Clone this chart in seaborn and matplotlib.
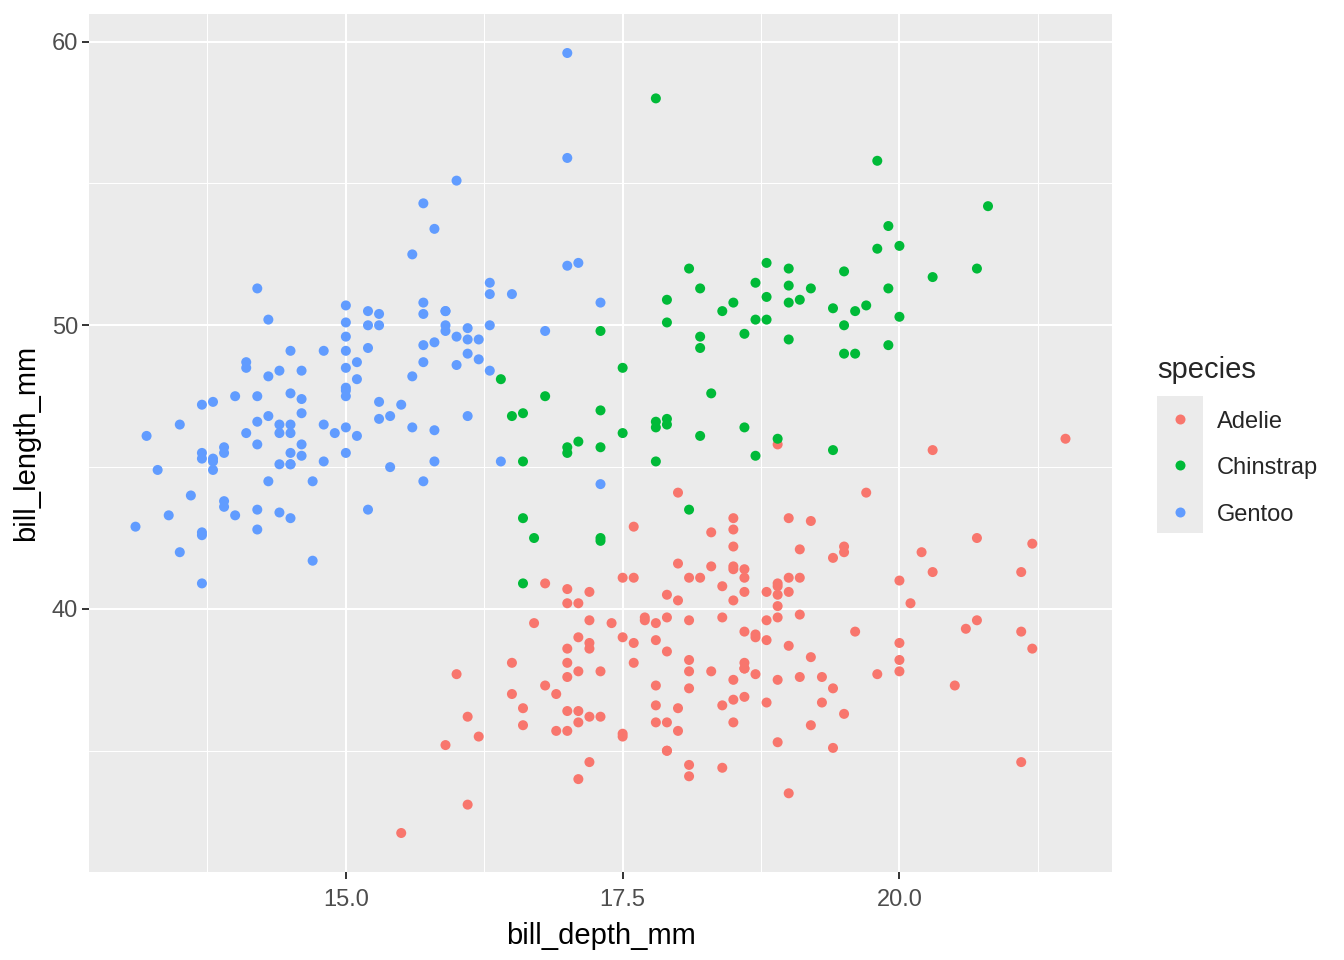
import matplotlib
matplotlib.use("Agg")
import matplotlib.pyplot as plt
from matplotlib.lines import Line2D
from matplotlib.patches import Rectangle
import pandas as pd
import seaborn as sns

# bill_depth_mm / bill_length_mm per species
adelie_depth = [
    18.7, 17.4, 18.0, 19.3, 20.6, 17.8, 19.6, 18.1, 20.2, 17.1, 17.3, 17.6, 21.2, 21.1, 17.8,
    19.0, 20.7, 18.4, 21.5, 18.3, 18.7, 19.2, 18.1, 17.2, 18.9, 18.6, 17.9, 18.6, 18.9, 16.7,
    18.1, 17.8, 18.9, 17.0, 21.1, 20.0, 18.5, 19.3, 19.1, 18.0, 18.4, 18.5, 19.7, 16.9, 18.8,
    19.0, 18.9, 17.9, 21.2, 17.7, 18.9, 17.9, 19.5, 18.1, 18.6, 17.5, 18.8, 16.6, 19.1, 16.9,
    21.1, 17.0, 18.2, 17.1, 18.0, 16.2, 19.1, 16.6, 19.4, 19.0, 18.4, 17.2, 18.9, 17.5, 18.5,
    16.8, 19.4, 16.1, 19.1, 17.2, 17.6, 18.8, 19.4, 17.8, 20.3, 19.5, 18.6, 19.2, 18.8, 18.0,
    18.1, 17.1, 18.1, 17.3, 18.9, 18.6, 18.5, 16.1, 18.5, 17.9, 20.0, 16.0, 20.0, 18.6, 18.9,
    17.2, 20.0, 17.0, 19.0, 16.5, 20.3, 17.7, 19.5, 20.7, 18.3, 17.0, 20.5, 17.0, 18.6, 17.2,
    19.8, 17.0, 18.5, 15.9, 19.0, 17.6, 18.3, 17.1, 18.0, 17.9, 19.2, 18.5, 18.5, 17.6, 17.5,
    17.5, 20.1, 16.5, 17.9, 17.1, 17.2, 15.5, 17.0, 16.8, 18.7, 18.6, 18.4, 17.8, 18.1, 17.1,
    18.5,
]
adelie_length = [
    39.1, 39.5, 40.3, 36.7, 39.3, 38.9, 39.2, 34.1, 42.0, 37.8, 37.8, 41.1, 38.6, 34.6, 36.6,
    38.7, 42.5, 34.4, 46.0, 37.8, 37.7, 35.9, 38.2, 38.8, 35.3, 40.6, 40.5, 37.9, 40.5, 39.5,
    37.2, 39.5, 40.9, 36.4, 39.2, 38.8, 42.2, 37.6, 39.8, 36.5, 40.8, 36.0, 44.1, 37.0, 39.6,
    41.1, 37.5, 36.0, 42.3, 39.6, 40.1, 35.0, 42.0, 34.5, 41.4, 39.0, 40.6, 36.5, 37.6, 35.7,
    41.3, 37.6, 41.1, 36.4, 41.6, 35.5, 41.1, 35.9, 41.8, 33.5, 39.7, 39.6, 45.8, 35.5, 42.8,
    40.9, 37.2, 36.2, 42.1, 34.6, 42.9, 36.7, 35.1, 37.3, 41.3, 36.3, 36.9, 38.3, 38.9, 35.7,
    41.1, 34.0, 39.6, 36.2, 40.8, 38.1, 40.3, 33.1, 43.2, 35.0, 41.0, 37.7, 37.8, 37.9, 39.7,
    38.6, 38.2, 38.1, 43.2, 38.1, 45.6, 39.7, 42.2, 39.6, 42.7, 38.6, 37.3, 35.7, 41.1, 36.2,
    37.7, 40.2, 41.4, 35.2, 40.6, 38.8, 41.5, 39.0, 44.1, 38.5, 43.1, 36.8, 37.5, 38.1, 41.1,
    35.6, 40.2, 37.0, 39.7, 40.2, 40.6, 32.1, 40.7, 37.3, 39.0, 39.2, 36.6, 36.0, 37.8, 36.0,
    41.5,
]
chinstrap_depth = [
    17.9, 19.5, 19.2, 18.7, 19.8, 17.8, 18.2, 18.2, 18.9, 19.9, 17.8, 20.3, 17.3, 18.1, 17.1,
    19.6, 20.0, 17.8, 18.6, 18.2, 17.3, 17.5, 16.6, 19.4, 17.9, 19.0, 18.4, 19.0, 17.8, 20.0,
    16.6, 20.8, 16.7, 18.8, 18.6, 16.8, 18.3, 20.7, 16.6, 19.9, 19.5, 17.5, 19.1, 17.0, 17.9,
    18.5, 17.9, 19.6, 18.7, 17.3, 16.4, 19.0, 17.3, 19.7, 17.3, 18.8, 16.6, 19.9, 18.8, 19.4,
    19.5, 16.5, 17.0, 19.8, 18.1, 18.2, 19.0, 18.7,
]
chinstrap_length = [
    46.5, 50.0, 51.3, 45.4, 52.7, 45.2, 46.1, 51.3, 46.0, 51.3, 46.6, 51.7, 47.0, 52.0, 45.9,
    50.5, 50.3, 58.0, 46.4, 49.2, 42.4, 48.5, 43.2, 50.6, 46.7, 52.0, 50.5, 49.5, 46.4, 52.8,
    40.9, 54.2, 42.5, 51.0, 49.7, 47.5, 47.6, 52.0, 46.9, 53.5, 49.0, 46.2, 50.9, 45.5, 50.9,
    50.8, 50.1, 49.0, 51.5, 49.8, 48.1, 51.4, 45.7, 50.7, 42.5, 52.2, 45.2, 49.3, 50.2, 45.6,
    51.9, 46.8, 45.7, 55.8, 43.5, 49.6, 50.8, 50.2,
]
gentoo_depth = [
    13.2, 16.3, 14.1, 15.2, 14.5, 13.5, 14.6, 15.3, 13.4, 15.4, 13.7, 16.1, 13.7, 14.6, 14.6,
    15.7, 13.5, 15.2, 14.5, 15.1, 14.3, 14.5, 14.5, 15.8, 13.1, 15.1, 14.3, 15.0, 14.3, 15.3,
    15.3, 14.2, 14.5, 17.0, 14.8, 16.3, 13.7, 17.3, 13.6, 15.7, 13.7, 16.0, 13.7, 15.0, 15.9,
    13.9, 13.9, 15.9, 13.3, 15.8, 14.2, 14.1, 14.4, 15.0, 14.4, 15.4, 13.9, 15.0, 14.5, 15.3,
    13.8, 14.9, 13.9, 15.7, 14.2, 16.8, 14.4, 16.2, 14.2, 15.0, 15.0, 15.6, 15.6, 14.8, 15.0,
    16.0, 14.2, 16.3, 13.8, 16.4, 14.5, 15.6, 14.6, 15.9, 13.8, 17.3, 14.4, 14.2, 14.0, 17.0,
    15.0, 17.1, 14.5, 16.1, 14.7, 15.7, 15.8, 14.6, 14.4, 16.5, 15.0, 17.0, 15.5, 15.0, 13.8,
    16.1, 14.7, 15.8, 14.0, 15.1, 15.2, 15.9, 15.2, 16.3, 14.1, 16.0, 15.7, 16.2, 13.7, 14.3,
    15.7, 14.8, 16.1,
]
gentoo_length = [
    46.1, 50.0, 48.7, 50.0, 47.6, 46.5, 45.4, 46.7, 43.3, 46.8, 40.9, 49.0, 45.5, 48.4, 45.8,
    49.3, 42.0, 49.2, 46.2, 48.7, 50.2, 45.1, 46.5, 46.3, 42.9, 46.1, 44.5, 47.8, 48.2, 50.0,
    47.3, 42.8, 45.1, 59.6, 49.1, 48.4, 42.6, 44.4, 44.0, 48.7, 42.7, 49.6, 45.3, 49.6, 50.5,
    43.6, 45.5, 50.5, 44.9, 45.2, 46.6, 48.5, 45.1, 50.1, 46.5, 45.0, 43.8, 45.5, 43.2, 50.4,
    45.3, 46.2, 45.7, 54.3, 45.8, 49.8, 46.2, 49.5, 43.5, 50.7, 47.7, 46.4, 48.2, 46.5, 46.4,
    48.6, 47.5, 51.1, 45.2, 45.2, 49.1, 52.5, 47.4, 50.0, 44.9, 50.8, 43.4, 51.3, 47.5, 52.1,
    47.5, 52.2, 45.5, 49.5, 44.5, 50.8, 49.4, 46.9, 48.4, 51.1, 48.5, 55.9, 47.2, 49.1, 47.3,
    46.8, 41.7, 53.4, 43.3, 48.1, 50.5, 49.8, 43.5, 51.5, 46.2, 55.1, 44.5, 48.8, 47.2, 46.8,
    50.4, 45.2, 49.9,
]

species_names = ["Adelie", "Chinstrap", "Gentoo"]
species_colors = ["#F8766D", "#00BA38", "#619CFF"]


def main():
    df = pd.concat([
        pd.DataFrame({"bill_depth_mm": d, "bill_length_mm": l, "species": s})
        for s, d, l in zip(species_names,
                           [adelie_depth, chinstrap_depth, gentoo_depth],
                           [adelie_length, chinstrap_length, gentoo_length])
    ], ignore_index=True)

    sns.set_theme(style="darkgrid")
    plt.rcParams["font.family"] = ["Liberation Sans", "DejaVu Sans"]

    fig = plt.figure(figsize=(13.44, 9.6), dpi=100)
    ax = fig.add_axes([89 / 1344, 88 / 960, 1023 / 1344, 858 / 960])
    ax.set_facecolor("#EBEBEB")

    sns.scatterplot(data=df, x="bill_depth_mm", y="bill_length_mm",
                    hue="species", hue_order=species_names,
                    palette=species_colors, s=52, linewidth=0,
                    legend=False, ax=ax, zorder=3)

    xmin, xmax = df["bill_depth_mm"].min(), df["bill_depth_mm"].max()
    ymin, ymax = df["bill_length_mm"].min(), df["bill_length_mm"].max()
    ax.set_xlim(xmin - 0.05 * (xmax - xmin), xmax + 0.05 * (xmax - xmin))
    ax.set_ylim(ymin - 0.05 * (ymax - ymin), ymax + 0.05 * (ymax - ymin))

    ax.set_xticks([15, 17.5, 20])
    ax.set_xticklabels(["15.0", "17.5", "20.0"])
    ax.set_xticks([13.75, 16.25, 18.75, 21.25], minor=True)
    ax.set_yticks([40, 50, 60])
    ax.set_yticks([35, 45, 55], minor=True)
    ax.grid(which="major", color="white", linewidth=1.5)
    ax.grid(which="minor", color="white", linewidth=0.75)
    for sp in ax.spines.values():
        sp.set_visible(False)
    ax.tick_params(which="major", length=5, width=1.4, color="#333333",
                   labelsize=17, labelcolor="#4D4D4D", pad=3)
    ax.tick_params(which="minor", length=0)
    ax.tick_params(axis="x", bottom=True, pad=7)
    ax.tick_params(axis="y", left=True)

    ax.set_xlabel("bill_depth_mm", fontsize=21, color="black", labelpad=8)
    ax.set_ylabel("bill_length_mm", fontsize=21, color="black", labelpad=8)

    # legend laid out like ggplot's
    W, H = 1344, 960
    fig.text(1157 / W, 1 - 370 / H, "species", fontsize=21, va="center", ha="left")
    fig.add_artist(Rectangle((1157 / W, 1 - 533 / H), 46 / W, 137 / H,
                             transform=fig.transFigure, facecolor="#EBEBEB",
                             edgecolor="none"))
    for i, (name, col) in enumerate(zip(species_names, species_colors)):
        yc = 1 - (419 + 46.3 * i) / H
        fig.add_artist(Line2D([1180 / W], [yc], marker="o", markersize=7.2,
                              markerfacecolor=col, markeredgewidth=0,
                              linestyle="none", transform=fig.transFigure))
        fig.text(1217 / W, yc - 3 / H, name, fontsize=17, va="center", ha="left")

    fig.savefig("out.png", dpi=100)


if __name__ == "__main__":
    main()
